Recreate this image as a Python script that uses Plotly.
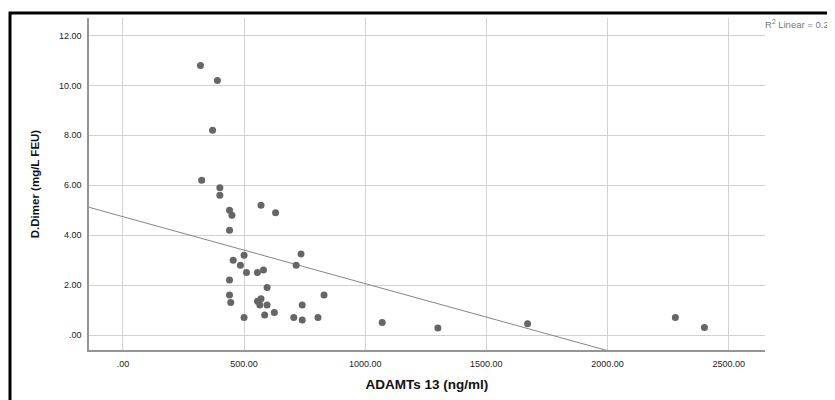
import plotly.graph_objects as go
import numpy as np

# ---- data ----
adamts13 = [320, 390, 370, 325, 400, 400, 440, 450, 440, 570, 630, 455, 500, 485,
            510, 555, 580, 735, 715, 440, 595, 440, 445, 555, 570, 565, 595, 740,
            830, 585, 500, 625, 705, 740, 805, 1070, 1300, 1670, 2280, 2400]
ddimer = [10.8, 10.2, 8.2, 6.2, 5.9, 5.6, 5.0, 4.8, 4.2, 5.2, 4.9, 3.0, 3.2, 2.8,
          2.5, 2.5, 2.6, 3.25, 2.8, 2.2, 1.9, 1.6, 1.3, 1.35, 1.45, 1.2, 1.2, 1.2,
          1.6, 0.8, 0.7, 0.9, 0.7, 0.6, 0.7, 0.5, 0.28, 0.45, 0.7, 0.3]

x_tickvals = [0, 500, 1000, 1500, 2000, 2500]
x_ticktext = [".00", "500.00", "1000.00", "1500.00", "2000.00", "2500.00"]
y_tickvals = [0, 2, 4, 6, 8, 10, 12]
y_ticktext = [".00", "2.00", "4.00", "6.00", "8.00", "10.00", "12.00"]

x_range = [-140, 2650]
y_range = [-0.6, 12.7]

# linear fit from the data (as SPSS "Fit line at total")
fit_slope, fit_intercept = np.polyfit(np.array(adamts13, float), np.array(ddimer, float), 1)
r2 = np.corrcoef(adamts13, ddimer)[0, 1] ** 2
r2_text = f"R<sup>2</sup> Linear = {r2:.3f}"

# the page body adds an 8px offset; design in screen pixels and compensate
OFF = 8
SCREEN_W, SCREEN_H = 835, 400
W, H = SCREEN_W - OFF, SCREEN_H - OFF
plot_left, plot_right, plot_top, plot_bottom = 89, 765, 18, 353   # screen px
ML = plot_left - OFF
MR = SCREEN_W - plot_right
MT = plot_top - OFF
MB = SCREEN_H - plot_bottom
pw, ph = plot_right - plot_left, plot_bottom - plot_top

def px_to_paper_x(px):
    return (px - plot_left) / pw

def px_to_paper_y(py):
    return (plot_bottom - py) / ph

fit_x = x_range
fit_y = [fit_intercept + fit_slope * v for v in fit_x]

fig = go.Figure()
fig.add_trace(go.Scatter(
    x=fit_x, y=fit_y, mode="lines",
    line=dict(color="#858585", width=1),
    hoverinfo="skip", showlegend=False))
fig.add_trace(go.Scatter(
    x=adamts13, y=ddimer, mode="markers",
    marker=dict(color="#666666", size=7, line=dict(width=0)),
    showlegend=False))

fig.update_layout(
    width=W, height=H,
    margin=dict(l=ML, r=MR, t=MT, b=MB, pad=0),
    paper_bgcolor="white", plot_bgcolor="white",
    font=dict(family="Liberation Sans, Arial, sans-serif", color="#222222"),
    xaxis=dict(range=x_range, tickvals=x_tickvals, ticktext=x_ticktext,
               showgrid=True, gridcolor="#d2d2d2", gridwidth=1,
               zeroline=False, showline=True, linecolor="#959595", linewidth=1.5,
               ticks="", ticklabelstandoff=4, tickfont=dict(size=9, color="#222222"),
               title=dict(text="<b>ADAMTs 13 (ng/ml)</b>", font=dict(size=13.5, color="#111111"),
                          standoff=12)),
    yaxis=dict(range=y_range, tickvals=y_tickvals, ticktext=y_ticktext,
               showgrid=True, gridcolor="#d2d2d2", gridwidth=1,
               zeroline=False, showline=True, linecolor="#959595", linewidth=1.5,
               ticks="", ticklabelstandoff=4, tickfont=dict(size=9, color="#222222"),
               title=dict(text="<b>D.Dimer (mg/L FEU)</b>", font=dict(size=11.5, color="#111111"),
                          standoff=17)),
    shapes=[dict(type="rect", xref="paper", yref="paper",
                 x0=px_to_paper_x(10), x1=px_to_paper_x(SCREEN_W + 10),
                 y0=px_to_paper_y(SCREEN_H + 10), y1=px_to_paper_y(13),
                 line=dict(color="black", width=3), fillcolor="rgba(0,0,0,0)",
                 layer="above")],
    annotations=[dict(text=r2_text, xref="paper", yref="paper",
                      x=px_to_paper_x(763), y=px_to_paper_y(24),
                      xanchor="left", yanchor="middle", showarrow=False,
                      font=dict(size=9.5, color="#777777"))],
)

fig.write_html("out.html")
